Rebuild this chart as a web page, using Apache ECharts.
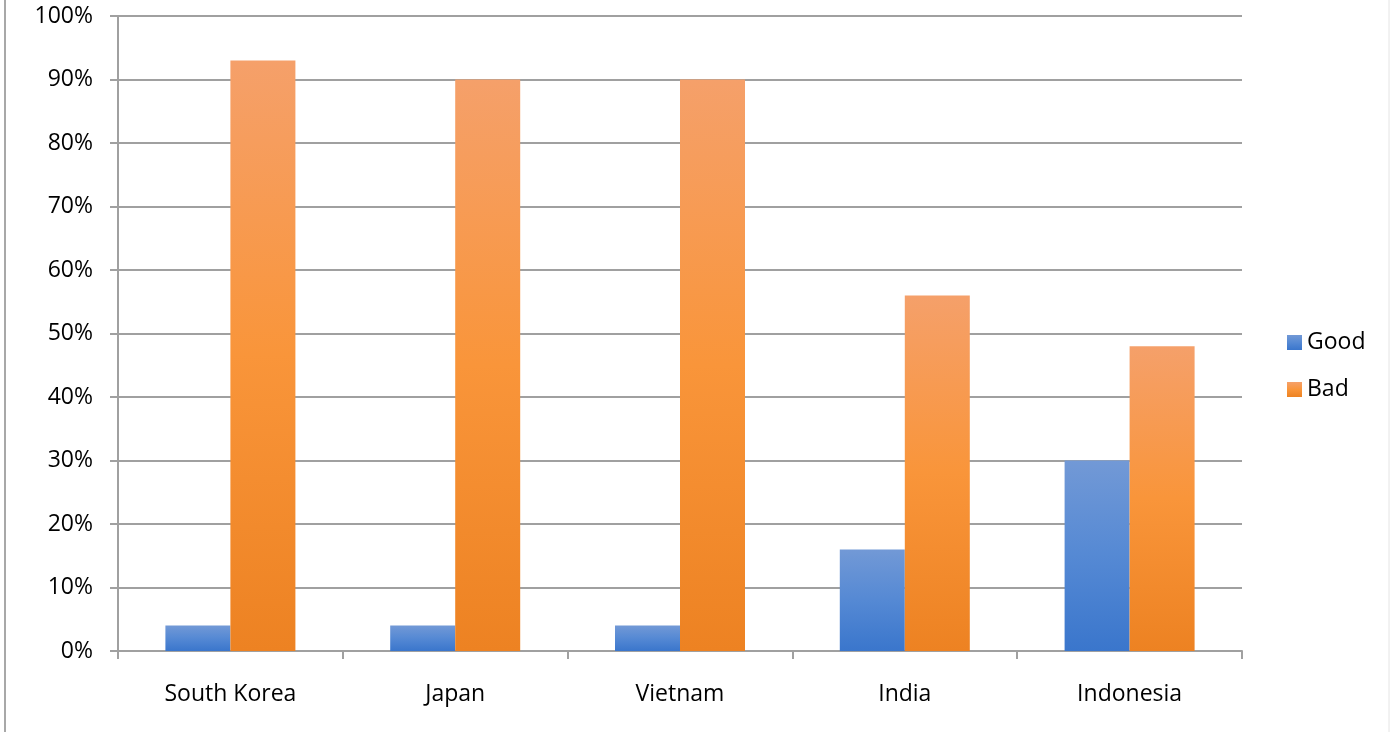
<!DOCTYPE html>
<html>
<head>
<meta charset="utf-8">
<script src="https://cdn.jsdelivr.net/npm/echarts@6/dist/echarts.min.js"></script>
<style>
  html, body { margin: 0; padding: 0; background: #fff; }
  #chart { width: 1390px; height: 732px; }
</style>
</head>
<body>
<div id="chart"></div>
<script>
var countries = ["South Korea", "Japan", "Vietnam", "India", "Indonesia"];
var good = [4, 4, 4, 16, 30];
var bad = [93, 90, 90, 56, 48];

var font = "'Open Sans', 'Noto Sans', sans-serif";

function grad(top, mid, bottom) {
  return new echarts.graphic.LinearGradient(0, 0, 0, 1, [
    { offset: 0, color: top },
    { offset: 0.5, color: mid },
    { offset: 1, color: bottom }
  ]);
}

var myChart = echarts.init(document.getElementById("chart"));
var option = {
  animation: false,
  backgroundColor: "#ffffff",
  graphic: [
    // thin frame lines at the picture edges
    { type: "line", shape: { x1: 5, y1: 0, x2: 5, y2: 732 }, style: { stroke: "#a8a8a8", lineWidth: 2 } },
    { type: "line", shape: { x1: 1389, y1: 0, x2: 1389, y2: 732 }, style: { stroke: "#e4e4e4", lineWidth: 1 } }
  ],
  grid: { left: 118, right: 148, top: 16, bottom: 81 },
  legend: {
    orient: "vertical",
    left: 1282,
    top: 326,
    itemWidth: 15,
    itemHeight: 15,
    itemGap: 24,
    icon: "rect",
    textStyle: { fontFamily: font, fontSize: 23, color: "#000" },
    data: ["Good", "Bad"]
  },
  xAxis: {
    type: "category",
    data: countries,
    axisLine: { lineStyle: { color: "#a0a0a0", width: 2 } },
    axisTick: { show: true, length: 8, alignWithLabel: false, lineStyle: { color: "#a0a0a0", width: 2 } },
    axisLabel: { fontFamily: font, fontSize: 23, color: "#000", margin: 32 }
  },
  yAxis: {
    type: "value",
    min: 0,
    max: 100,
    interval: 10,
    axisLine: { show: true, lineStyle: { color: "#a0a0a0", width: 2 } },
    axisTick: { show: true, length: 8, lineStyle: { color: "#a0a0a0", width: 2 } },
    axisLabel: { formatter: "{value}%", fontFamily: font, fontSize: 23, color: "#000", margin: 25, padding: [5, 0, 0, 0] },
    splitLine: { lineStyle: { color: "#a0a0a0", width: 2 } }
  },
  series: [
    {
      name: "Good",
      type: "bar",
      data: good,
      barWidth: 65,
      barGap: "0%",
      itemStyle: { color: grad("#7299d6", "#5589d4", "#3a76cc") }
    },
    {
      name: "Bad",
      type: "bar",
      data: bad,
      barWidth: 65,
      itemStyle: { color: grad("#f5a06a", "#f9953a", "#ed8222") }
    }
  ]
};
option && myChart.setOption(option);
</script>
</body>
</html>
